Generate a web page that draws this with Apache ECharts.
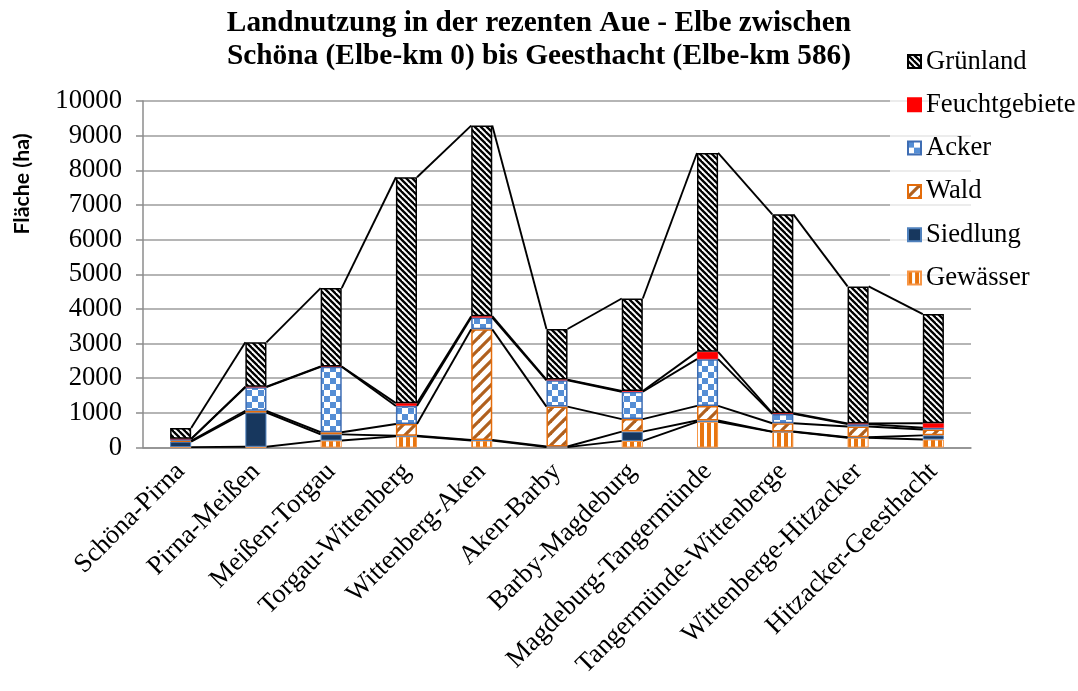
<!DOCTYPE html>
<html>
<head>
<meta charset="utf-8">
<script src="https://cdn.jsdelivr.net/npm/echarts@6/dist/echarts.min.js"></script>
<style>
  html, body { margin: 0; padding: 0; background: #fff; }
  #chart { width: 1078px; height: 691px; }
</style>
</head>
<body>
<div id="chart"></div>
<script>
// Flächen je Abschnitt (ha), von unten nach oben gestapelt
const categories = ['Schöna-Pirna', 'Pirna-Meißen', 'Meißen-Torgau', 'Torgau-Wittenberg',
  'Wittenberg-Aken', 'Aken-Barby', 'Barby-Magdeburg', 'Magdeburg-Tangermünde',
  'Tangermünde-Wittenberge', 'Wittenberge-Hitzacker', 'Hitzacker-Geesthacht'];
const gewaesser = [10, 20, 200, 320, 200, 10, 190, 740, 450, 280, 230];
const siedlung  = [160, 990, 180, 20, 20, 20, 270, 40, 10, 15, 120];
const wald      = [25, 50, 60, 340, 3190, 1150, 360, 420, 240, 310, 170];
const acker     = [50, 680, 1890, 520, 340, 760, 790, 1350, 270, 70, 50];
const feucht    = [5, 15, 10, 80, 40, 20, 20, 210, 20, 20, 130];
const gruenland = [310, 1280, 2260, 6520, 5500, 1460, 2670, 5740, 5740, 3955, 3150];
const yTicks = { min: 0, max: 10000, interval: 1000 };

const BAR_FRAC = 0.28;
const PT20 = 26.67;

// Füllmuster als Kacheln
function tile(size, draw) {
  const c = document.createElement('canvas');
  c.width = size; c.height = size;
  const ctx = c.getContext('2d');
  ctx.fillStyle = '#fff';
  ctx.fillRect(0, 0, size, size);
  draw(ctx, size);
  return { image: c, repeat: 'repeat' };
}
const hatchGruen = tile(6, (ctx, s) => {
  ctx.strokeStyle = '#000'; ctx.lineWidth = 2.3;
  for (const o of [-s, 0, s]) { ctx.beginPath(); ctx.moveTo(o - 1, -1); ctx.lineTo(o + s + 1, s + 1); ctx.stroke(); }
});
const hatchWald = tile(12, (ctx, s) => {
  ctx.strokeStyle = '#B0601E'; ctx.lineWidth = 3.2;
  for (const o of [-s, 0, s]) { ctx.beginPath(); ctx.moveTo(o - 1, s + 1); ctx.lineTo(o + s + 1, -1); ctx.stroke(); }
});
const checkAcker = tile(12, (ctx, s) => {
  ctx.fillStyle = '#558ED5';
  ctx.fillRect(0, 0, s / 2, s / 2);
  ctx.fillRect(s / 2, s / 2, s / 2, s / 2);
});
const stripesWasser = (() => {
  const c = document.createElement('canvas');
  c.width = 7; c.height = 4;
  const ctx = c.getContext('2d');
  ctx.fillStyle = '#fff'; ctx.fillRect(0, 0, 7, 4);
  ctx.fillStyle = '#E8750F'; ctx.fillRect(0, 0, 4, 4);
  return { image: c, repeat: 'repeat' };
})();

const layers = [
  { name: 'Gewässer', data: gewaesser, itemStyle: { color: stripesWasser, borderColor: '#F79646', borderWidth: 1 } },
  { name: 'Siedlung', data: siedlung, itemStyle: { color: '#17375E', borderColor: '#4F81BD', borderWidth: 1 } },
  { name: 'Wald', data: wald, itemStyle: { color: hatchWald, borderColor: '#E46C0A', borderWidth: 1.5 } },
  { name: 'Acker', data: acker, itemStyle: { color: checkAcker, borderColor: '#3E6DB3', borderWidth: 1.5 } },
  { name: 'Feuchtgebiete', data: feucht, itemStyle: { color: '#FF0000', borderColor: '#FF0000', borderWidth: 0.5 } },
  { name: 'Grünland', data: gruenland, itemStyle: { color: hatchGruen, borderColor: '#000', borderWidth: 1.5 } }
];

// Oberkanten jeder Schicht (kumuliert) für die Verbindungslinien
const tops = [];
let run = categories.map(() => 0);
layers.forEach(l => {
  run = run.map((v, i) => v + l.data[i]);
  tops.push(run.slice());
});
const connectorData = [];
tops.forEach(level => {
  for (let i = 0; i < categories.length - 1; i++) connectorData.push([i, level[i], level[i + 1]]);
});

const serif = 'Liberation Serif, Times New Roman, serif';

const series = layers.map(l => ({
  name: l.name,
  type: 'bar',
  stack: 'flaeche',
  barWidth: (BAR_FRAC * 100) + '%',
  data: l.data,
  itemStyle: l.itemStyle,
  emphasis: { disabled: true }
}));
series.push({
  name: 'Verbindung',
  type: 'custom',
  z: 5,
  silent: true,
  data: connectorData,
  encode: { x: 0, y: [1, 2] },
  renderItem(params, api) {
    const i = api.value(0);
    const a = api.coord([i, api.value(1)]);
    const b = api.coord([i + 1, api.value(2)]);
    const half = api.size([1, 0])[0] * BAR_FRAC / 2;
    return {
      type: 'line',
      shape: { x1: a[0] + half, y1: a[1], x2: b[0] - half, y2: b[1] },
      style: { stroke: '#000', lineWidth: 1.9 }
    };
  }
});

const chart = echarts.init(document.getElementById('chart'), null, { renderer: 'canvas' });
chart.setOption({
  animation: false,
  backgroundColor: '#fff',
  title: {
    text: 'Landnutzung in der rezenten Aue - Elbe zwischen\nSchöna (Elbe-km 0) bis Geesthacht (Elbe-km 586)',
    left: 'center',
    top: 2,
    textStyle: { fontFamily: serif, fontWeight: 'bold', fontSize: 29.33, lineHeight: 33, color: '#000' }
  },
  legend: {
    orient: 'vertical',
    left: 890,
    top: 43,
    padding: [5, 5, 5, 17],
    backgroundColor: 'rgba(255,255,255,0.75)',
    itemWidth: 13,
    itemHeight: 13,
    itemGap: 16.3,
    icon: 'rect',
    data: ['Grünland', 'Feuchtgebiete', 'Acker', 'Wald', 'Siedlung', 'Gewässer'],
    textStyle: { fontFamily: serif, fontSize: PT20, color: '#000' }
  },
  grid: { left: 143, right: 107, top: 101, bottom: 243.5 },
  xAxis: {
    type: 'category',
    data: categories,
    axisLine: { lineStyle: { color: '#8c8c8c', width: 1.5 } },
    axisTick: { show: false },
    axisLabel: { rotate: 45, margin: 20, fontFamily: serif, fontSize: PT20, color: '#000', interval: 0 }
  },
  yAxis: {
    type: 'value',
    min: yTicks.min, max: yTicks.max, interval: yTicks.interval,
    axisLine: { show: true, lineStyle: { color: '#8c8c8c', width: 1.5 } },
    axisTick: { show: true, length: 7, lineStyle: { color: '#8c8c8c', width: 1.5 } },
    axisLabel: { margin: 21, fontFamily: serif, fontSize: PT20, color: '#000', formatter: v => String(v) },
    splitLine: { lineStyle: { color: '#9c9c9c', width: 1.7 } }
  },
  graphic: [{
    type: 'text',
    x: 22, y: 184,
    rotation: Math.PI / 2,
    style: {
      text: 'Fläche (ha)',
      fontFamily: 'Lato, Open Sans, sans-serif',
      fontWeight: 'bold',
      fontSize: 21.33,
      fill: '#000',
      textAlign: 'center',
      textVerticalAlign: 'middle'
    }
  }],
  series
});
</script>
</body>
</html>
